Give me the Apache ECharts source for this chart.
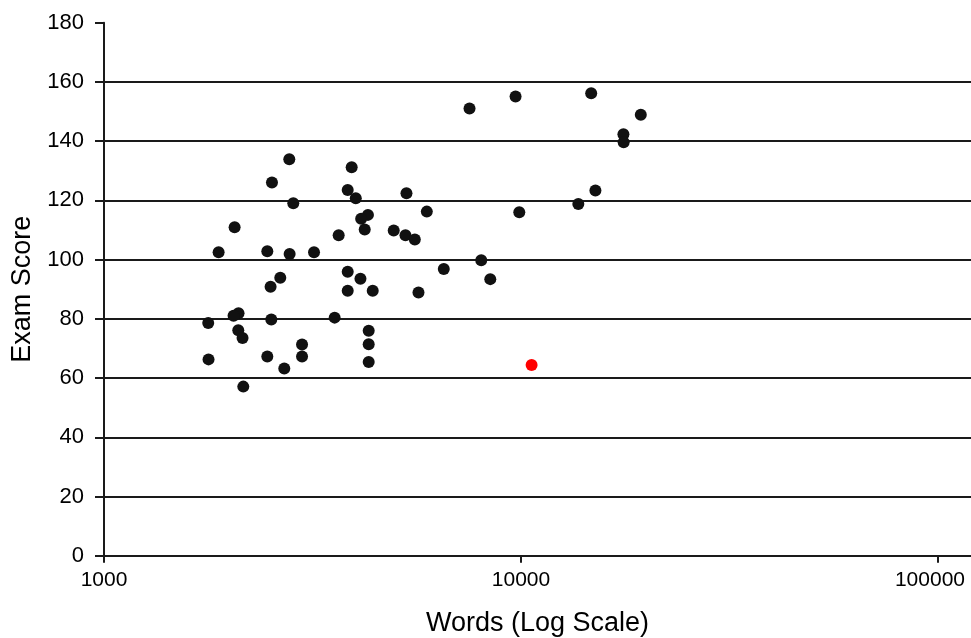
<!DOCTYPE html>
<html>
<head>
<meta charset="utf-8">
<script src="https://cdn.jsdelivr.net/npm/echarts@6/dist/echarts.min.js"></script>
<style>
html,body{margin:0;padding:0;background:#fff;}
#chart{width:971px;height:638px;}
</style>
</head>
<body>
<div id="chart"></div>
<script>
// Words (log scale) and exam scores
const words = [2782, 3926, 2528, 3841, 5313, 4016, 2844, 5945, 4295, 4137,
  2057, 4219, 4952, 5284, 5564, 3654, 1883, 2464, 2787, 3189,
  6529, 3841, 2647, 4121, 2509, 3841, 4410, 5678, 2102, 2045,
  1778, 2519, 3574, 4313, 2099, 2149, 2985, 4313, 2464, 2985,
  1781, 4313, 2706, 2158, 7526, 9705, 14735, 19378, 17605, 17630,
  15082, 13725, 9906, 8029, 8440];
const scores = [133.9, 131.2, 126.0, 123.5, 122.4, 120.7, 119.0, 116.2, 115.1, 113.8,
  110.9, 110.2, 109.8, 108.2, 106.8, 108.2, 102.5, 102.8, 101.9, 102.5,
  96.8, 95.9, 93.9, 93.5, 90.8, 89.5, 89.5, 88.9, 81.9, 81.0,
  78.6, 79.8, 80.4, 76.0, 76.1, 73.5, 71.3, 71.4, 67.3, 67.3,
  66.3, 65.4, 63.2, 57.1, 151.0, 155.1, 156.2, 148.9, 142.3, 139.6,
  123.3, 118.8, 116.0, 99.8, 93.4];
const highlightWords = [10603];
const highlightScores = [64.4];

const xTitle = 'Words (Log Scale)';
const yTitle = 'Exam Score';

const mainPts = words.map((w, i) => [w, scores[i]]);
const redPts = highlightWords.map((w, i) => [w, highlightScores[i]]);

const font = 'Liberation Sans, Arial, Helvetica, sans-serif';
const chart = echarts.init(document.getElementById('chart'), null, {renderer: 'canvas'});
chart.setOption({
  animation: false,
  backgroundColor: '#fff',
  grid: {left: 104, right: 0, top: 22.7, bottom: 82.3, containLabel: false, outerBoundsMode: 'none'},
  xAxis: {
    type: 'log',
    logBase: 10,
    min: 1000,
    max: 120000,
    name: xTitle,
    nameLocation: 'middle',
    nameGap: 54,
    nameTextStyle: {fontFamily: font, fontSize: 27, color: '#000'},
    axisLine: {show: true, lineStyle: {color: '#1a1a1a', width: 2}},
    axisTick: {show: true, length: 7, lineStyle: {color: '#1a1a1a', width: 2}},
    axisLabel: {fontFamily: font, fontSize: 21, color: '#000', margin: 14, showMaxLabel: false,
      formatter: v => {
        const s = String(Math.round(v));
        return s.length >= 6 ? '{e|' + s + '}' : s;
      },
      rich: {e: {fontFamily: font, fontSize: 21, color: '#000', padding: [0, 16, 0, 0]}}
    },
    splitLine: {show: false},
    minorTick: {show: false}
  },
  yAxis: {
    type: 'value',
    min: 0,
    max: 180,
    interval: 20,
    name: yTitle,
    nameLocation: 'middle',
    nameGap: 66,
    nameTextStyle: {fontFamily: font, fontSize: 27, color: '#000'},
    axisLine: {show: true, lineStyle: {color: '#1a1a1a', width: 2}},
    axisTick: {show: true, length: 9, lineStyle: {color: '#1a1a1a', width: 2}},
    axisLabel: {fontFamily: font, fontSize: 22, color: '#000', margin: 20},
    splitLine: {show: true, showMinLine: false, showMaxLine: false, lineStyle: {color: '#1a1a1a', width: 2}}
  },
  series: [
    {
      type: 'scatter',
      data: mainPts,
      symbol: 'circle',
      symbolSize: 12,
      itemStyle: {color: '#111', opacity: 1}
    },
    {
      type: 'scatter',
      data: redPts,
      symbol: 'circle',
      symbolSize: 12,
      itemStyle: {color: '#f00', opacity: 1}
    }
  ]
});
</script>
</body>
</html>
